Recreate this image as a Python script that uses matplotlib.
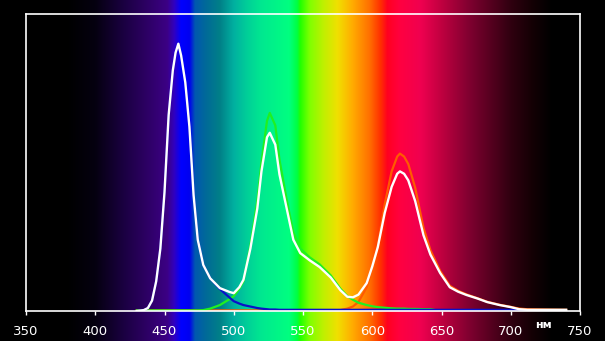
import numpy as np
import matplotlib
matplotlib.use("Agg")
import matplotlib.pyplot as plt
from matplotlib.colors import to_rgb

# ---- data ----
wavelength = [430, 435, 438, 441, 444, 447, 450, 453, 456, 458, 460, 462, 465, 468, 471, 474, 478,
              483, 490, 497, 500, 504, 507, 512, 517, 520, 524, 526, 530, 533, 538, 543, 548, 555,
              562, 570, 577, 582, 586, 590, 596, 600, 604, 609, 614, 618, 620, 623, 626, 631, 637,
              642, 649, 656, 662, 668, 676, 683, 692, 700, 706, 712, 725, 740]

white = [0.0, 0.003, 0.01, 0.035, 0.10, 0.21, 0.40, 0.66, 0.81, 0.87, 0.90, 0.86, 0.77, 0.62, 0.39, 0.24, 0.155,
         0.11, 0.077, 0.064, 0.06, 0.08, 0.105, 0.21, 0.345, 0.47, 0.585, 0.60, 0.56, 0.46, 0.35, 0.24, 0.195, 0.17,
         0.148, 0.113, 0.07, 0.048, 0.046, 0.055, 0.094, 0.15, 0.215, 0.33, 0.418, 0.462, 0.47, 0.462, 0.44, 0.37, 0.255,
         0.19, 0.128, 0.08, 0.065, 0.054, 0.042, 0.03, 0.02, 0.013, 0.006, 0.004, 0.004, 0.004]

blue = [0.0, 0.003, 0.01, 0.035, 0.10, 0.21, 0.40, 0.66, 0.81, 0.87, 0.90, 0.86, 0.77, 0.62, 0.39, 0.24, 0.155,
        0.11, 0.074, 0.045, 0.033, 0.025, 0.02, 0.015, 0.01, 0.008, 0.006, 0.005, 0.005, 0.004, 0.004, 0.004, 0.004, 0.004,
        0.004, 0.004, 0.004, 0.004, 0.004, 0.004, 0.004, 0.004, 0.004, 0.004, 0.004, 0.004, 0.004, 0.004, 0.004, 0.004, 0.004,
        0.004, 0.004, 0.004, 0.004, 0.004, 0.004, 0.004, 0.004, 0.004, 0.003, 0.0, 0.0, 0.0]

green = [0.002, 0.002, 0.002, 0.002, 0.002, 0.002, 0.002, 0.002, 0.002, 0.002, 0.002, 0.002, 0.002, 0.002, 0.002, 0.002, 0.003,
         0.008, 0.02, 0.04, 0.05, 0.075, 0.10, 0.22, 0.37, 0.50, 0.64, 0.667, 0.625, 0.51, 0.38, 0.265, 0.21, 0.18,
         0.157, 0.12, 0.075, 0.05, 0.038, 0.028, 0.02, 0.016, 0.013, 0.011, 0.009, 0.008, 0.008, 0.008, 0.007, 0.007, 0.006,
         0.006, 0.0, 0.0, 0.0, 0.0, 0.0, 0.0, 0.0, 0.0, 0.0, 0.0, 0.0, 0.0]

red = [0.002, 0.002, 0.002, 0.002, 0.002, 0.002, 0.002, 0.002, 0.002, 0.002, 0.002, 0.002, 0.002, 0.002, 0.002, 0.002, 0.002,
       0.002, 0.002, 0.002, 0.002, 0.002, 0.002, 0.002, 0.002, 0.002, 0.002, 0.002, 0.002, 0.002, 0.002, 0.002, 0.002, 0.002,
       0.002, 0.002, 0.003, 0.008, 0.015, 0.03, 0.08, 0.14, 0.22, 0.36, 0.47, 0.52, 0.53, 0.52, 0.495, 0.415, 0.28,
       0.205, 0.135, 0.085, 0.068, 0.056, 0.043, 0.031, 0.021, 0.014, 0.008, 0.006, 0.005, 0.004]

x_ticks = [350, 400, 450, 500, 550, 600, 650, 700, 750]
unit_label = "нм"

# ---- background spectrum stops (style) ----
spec_nm = [350, 380, 400, 420, 440, 452, 457, 462, 468, 472, 480, 490, 500, 510, 520, 540, 546, 548,
           555, 565, 575, 585, 598, 606, 611, 620, 635, 650, 670, 685, 700, 715, 730, 750]
spec_col = ["#000000", "#000000", "#050010", "#1a0040", "#30006a", "#3c0085", "#3000c0", "#0000ff", "#0000f0",
            "#0058b0", "#006a98", "#008088", "#00b0a0", "#00d098", "#00e890", "#00ff80", "#00ff40", "#20ff00",
            "#80ff00", "#c0f000", "#f0e000", "#ffb000", "#ff7000", "#ff3000", "#ff0020", "#ff0040", "#f00050",
            "#c00040", "#800030", "#580020", "#300010", "#150005", "#000000", "#000000"]

W, H, DPI = 605, 341, 100
fig = plt.figure(figsize=(W / DPI, H / DPI), dpi=DPI, facecolor="black")

left, right = 26 / W, 580 / W
bottom, top = (H - 311) / H, (H - 14) / H

# background gradient across the full figure height
xs = np.linspace(350, 750, 1200)
rgb = np.array([to_rgb(c) for c in spec_col])
grad = np.stack([np.interp(xs, spec_nm, rgb[:, k]) for k in range(3)], axis=-1)
ax_bg = fig.add_axes([left, 0, right - left, 1])
ax_bg.imshow(grad[np.newaxis, :, :], extent=[350, 750, 0, 1], aspect="auto", interpolation="bilinear")
ax_bg.set_xlim(350, 750)
ax_bg.set_ylim(0, 1)
ax_bg.axis("off")

ax = fig.add_axes([left, bottom, right - left, top - bottom])
ax.set_facecolor("none")
ax.plot(wavelength, red, color="#ff5a00", lw=1.6)
ax.plot(wavelength, green, color="#20f020", lw=1.6)
ax.plot(wavelength, blue, color="#0a10c8", lw=1.6)
ax.plot(wavelength, white, color="white", lw=1.7)

ax.set_xlim(350, 750)
ax.set_ylim(0, 1)
ax.set_xticks(x_ticks)
ax.set_xticklabels([str(t) for t in x_ticks])
ax.set_yticks([])
ax.tick_params(axis="x", colors="white", direction="out", length=3, width=1, pad=7, labelsize=9.5)
for s in ax.spines.values():
    s.set_color("white")
    s.set_linewidth(1.2)

fig.text(544 / W, (H - 324.5) / H, unit_label, color="white", fontsize=8, fontweight="bold",
         ha="center", va="center")

fig.savefig("out.png", dpi=DPI, facecolor="black")
